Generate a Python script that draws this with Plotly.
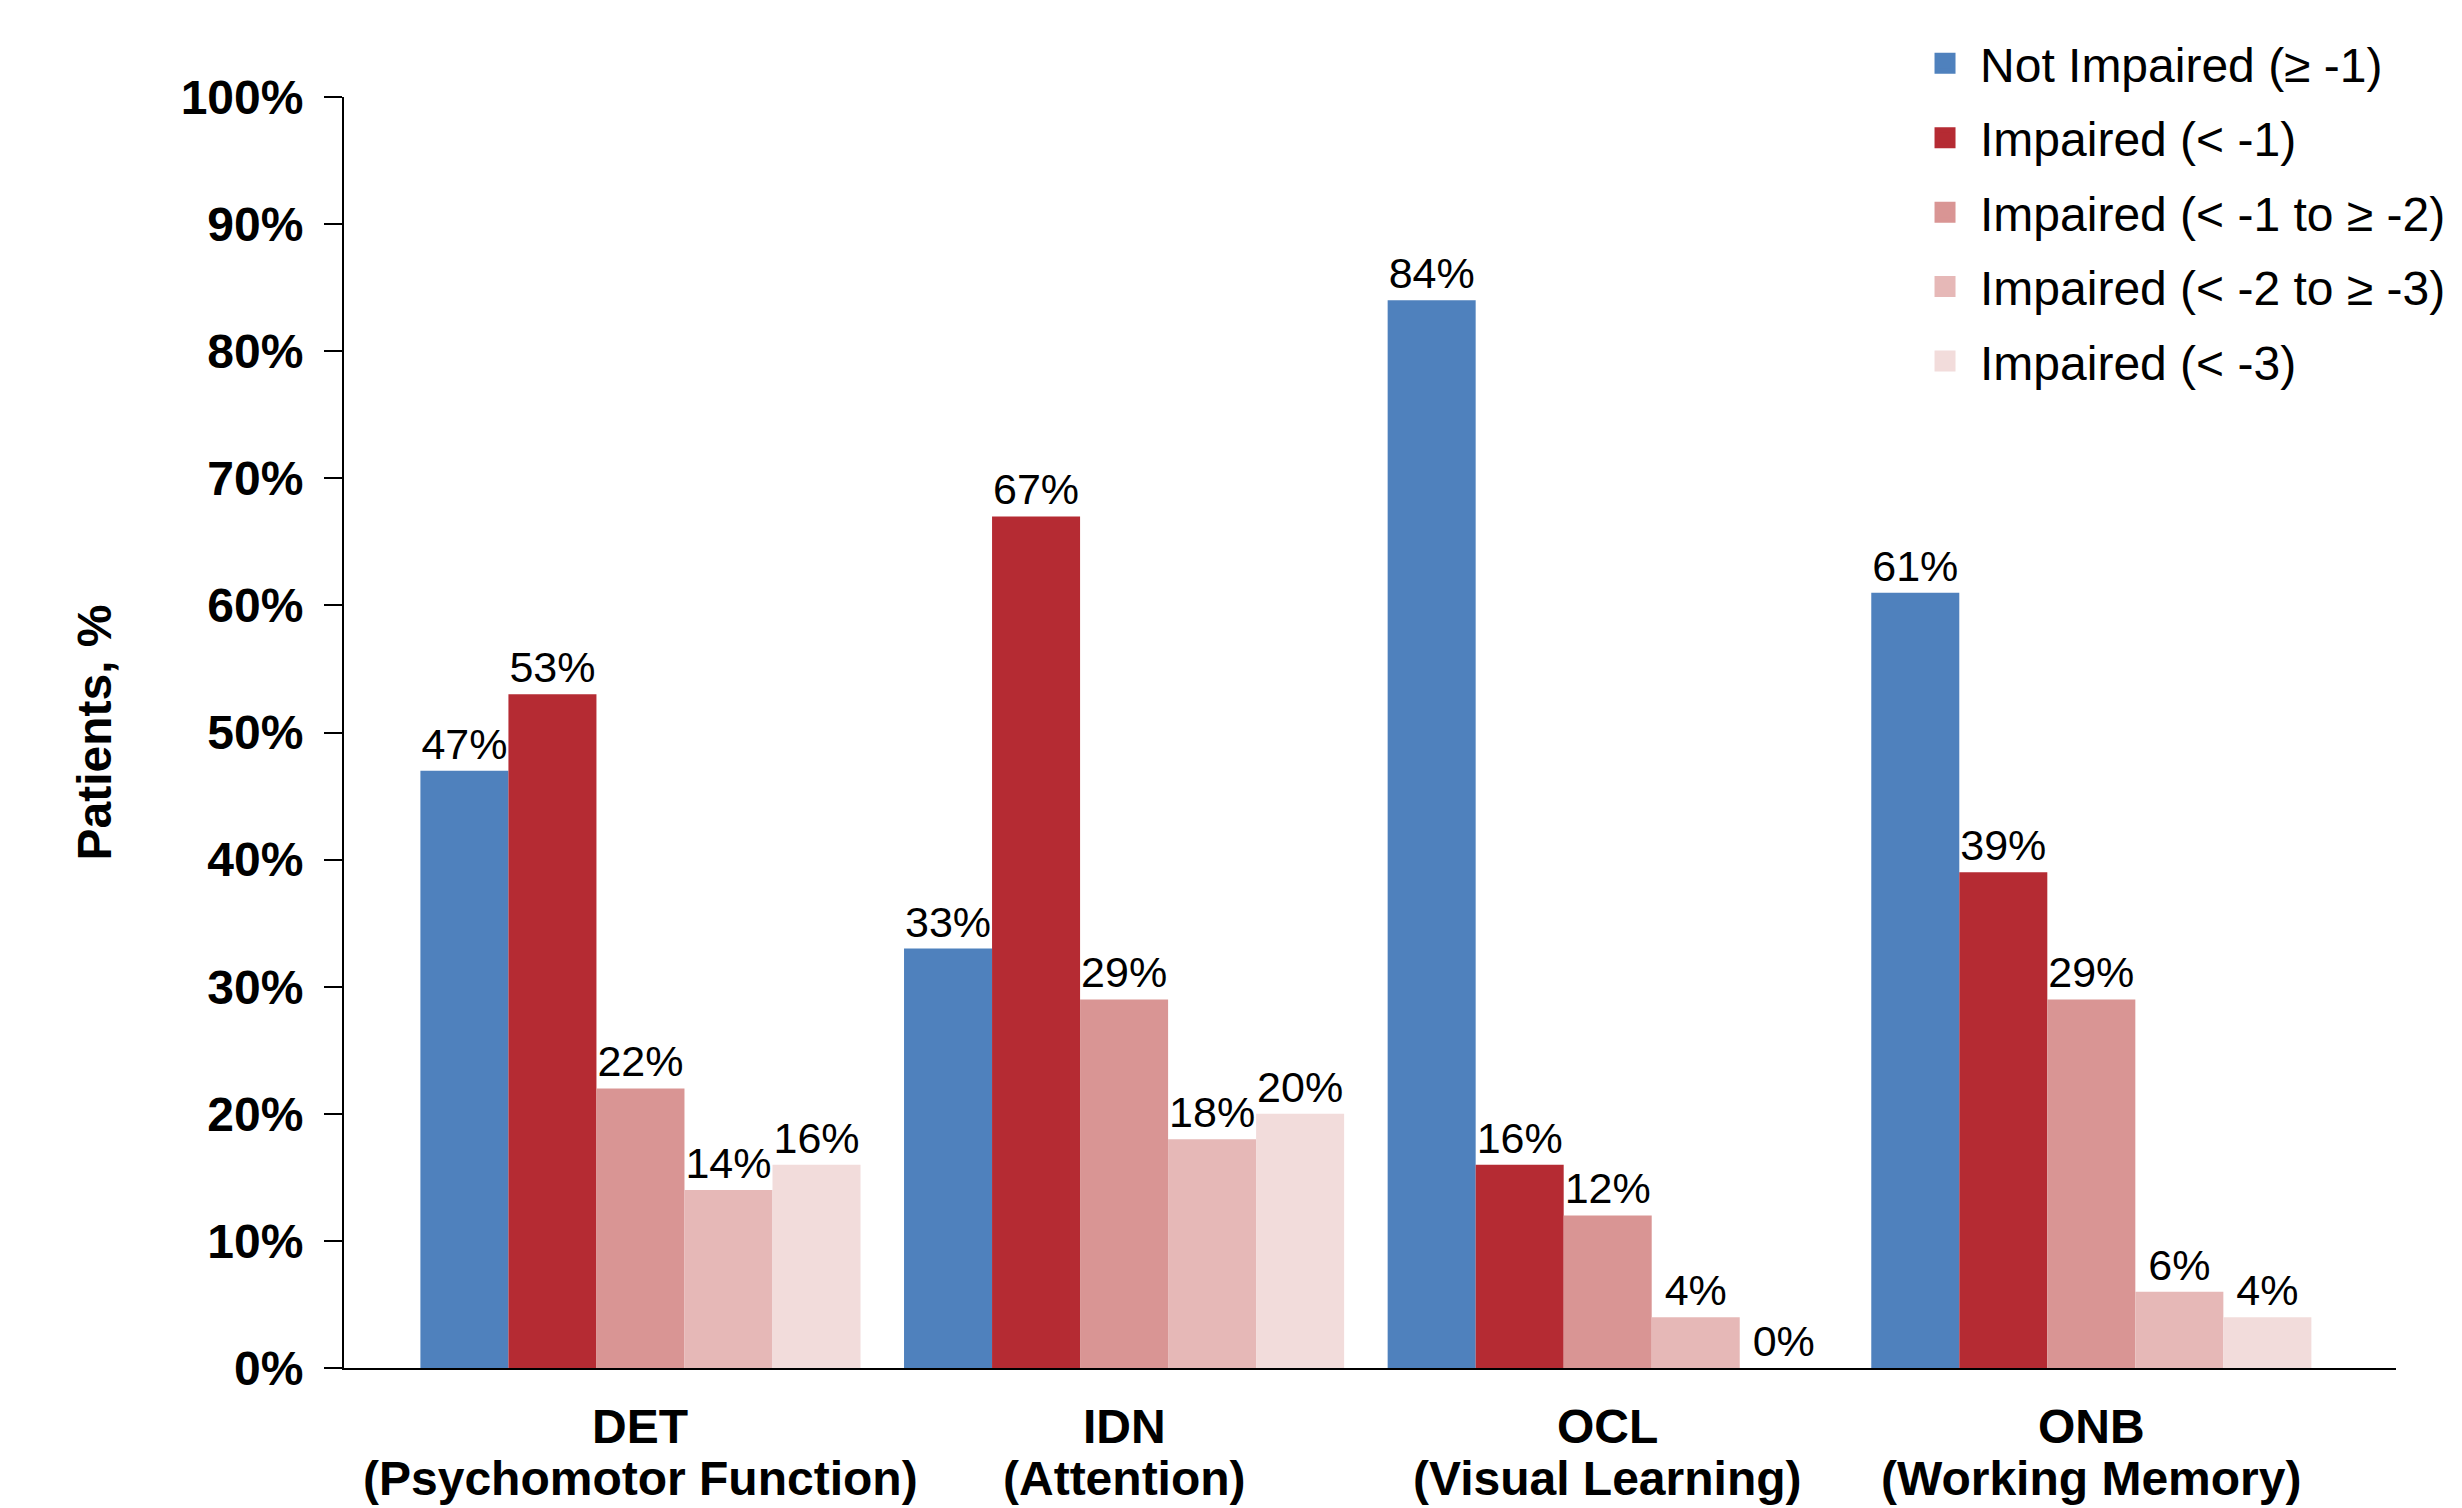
import plotly.graph_objects as go

# Cognitive domains (Cogstate tasks) on the category axis
task_codes = ["DET", "IDN", "OCL", "ONB"]
task_domains = ["(Psychomotor Function)", "(Attention)", "(Visual Learning)", "(Working Memory)"]

# Impairment categories (z-score thresholds) and bar colours
series_names = [
    "Not Impaired (≥ -1)",
    "Impaired (< -1)",
    "Impaired (< -1 to ≥ -2)",
    "Impaired (< -2 to ≥ -3)",
    "Impaired (< -3)",
]
series_colors = ["#4F81BD", "#B52B33", "#D99594", "#E6B8B7", "#F2DCDB"]

# Percentage of patients in each category, per task
not_impaired = [47, 33, 84, 61]
impaired = [53, 67, 16, 39]
impaired_1_2 = [22, 29, 12, 29]
impaired_2_3 = [14, 18, 4, 6]
impaired_3 = [16, 20, 0, 4]
series_values = [not_impaired, impaired, impaired_1_2, impaired_2_3, impaired_3]

# Y axis ticks
y_ticks = list(range(0, 101, 10))
y_tick_labels = [f"{v}%" for v in y_ticks]

FONT = "Liberation Sans, Arial, Helvetica, sans-serif"

fig = go.Figure()
for i, (name, vals, col) in enumerate(zip(series_names, series_values, series_colors)):
    fig.add_trace(go.Bar(
        x=task_codes,
        y=vals,
        name=name,
        legendgroup=f"g{i}",
        showlegend=False,
        marker=dict(color=col, line=dict(width=0)),
        text=[f"{v}%" for v in vals],
        textposition="outside",
        textfont=dict(family=FONT, size=43, color="black"),
        constraintext="none",
        cliponaxis=False,
    ))
    # legend key: a larger square swatch tied to the bar series above
    fig.add_trace(go.Scatter(
        x=[None], y=[None],
        mode="markers",
        name=name,
        legendgroup=f"g{i}",
        showlegend=True,
        marker=dict(symbol="square", size=16, color=col, line=dict(color=col, width=5)),
        hoverinfo="skip",
    ))

# Two-line category labels under each group
annotations = []
for code, domain in zip(task_codes, task_domains):
    annotations.append(dict(
        x=code, xref="x", y=0, yref="paper", yanchor="middle", yshift=-58,
        text=f"<b>{code}</b>", showarrow=False,
        font=dict(family=FONT, size=48, color="black"),
    ))
    annotations.append(dict(
        x=code, xref="x", y=0, yref="paper", yanchor="middle", yshift=-110,
        text=f"<b>{domain}</b>", showarrow=False,
        font=dict(family=FONT, size=48, color="black"),
    ))

fig.update_layout(
    width=2462,
    height=1508,
    margin=dict(l=344, r=66, t=97, b=140, autoexpand=False),
    paper_bgcolor="white",
    plot_bgcolor="white",
    barmode="group",
    bargap=0.09,
    bargroupgap=0,
    font=dict(family=FONT, color="black"),
    annotations=annotations,
    showlegend=True,
    legend=dict(
        xref="container", yref="container",
        x=0.7758, y=0.983, xanchor="left", yanchor="top",
        font=dict(family=FONT, size=48, color="black"),
        traceorder="grouped",
        tracegroupgap=9,
        itemwidth=60,
        bgcolor="rgba(0,0,0,0)",
        borderwidth=0,
    ),
    xaxis=dict(
        type="category",
        categoryorder="array",
        categoryarray=task_codes,
        range=[-0.613, 3.63],
        showticklabels=False,
        ticks="",
        showline=True,
        linecolor="black",
        linewidth=2,
        showgrid=False,
        zeroline=False,
    ),
    yaxis=dict(
        range=[0, 100],
        tickvals=y_ticks,
        ticktext=y_tick_labels,
        tickfont=dict(family=FONT, size=48, color="black", weight="bold"),
        ticks="outside",
        ticklen=18,
        tickwidth=2,
        tickcolor="black",
        ticklabelstandoff=11,
        showline=True,
        linecolor="black",
        linewidth=2,
        showgrid=False,
        zeroline=False,
        title=dict(
            text="<b>Patients, %</b>",
            font=dict(family=FONT, size=48, color="black"),
            standoff=54,
        ),
    ),
)

fig.write_html("out.html")
